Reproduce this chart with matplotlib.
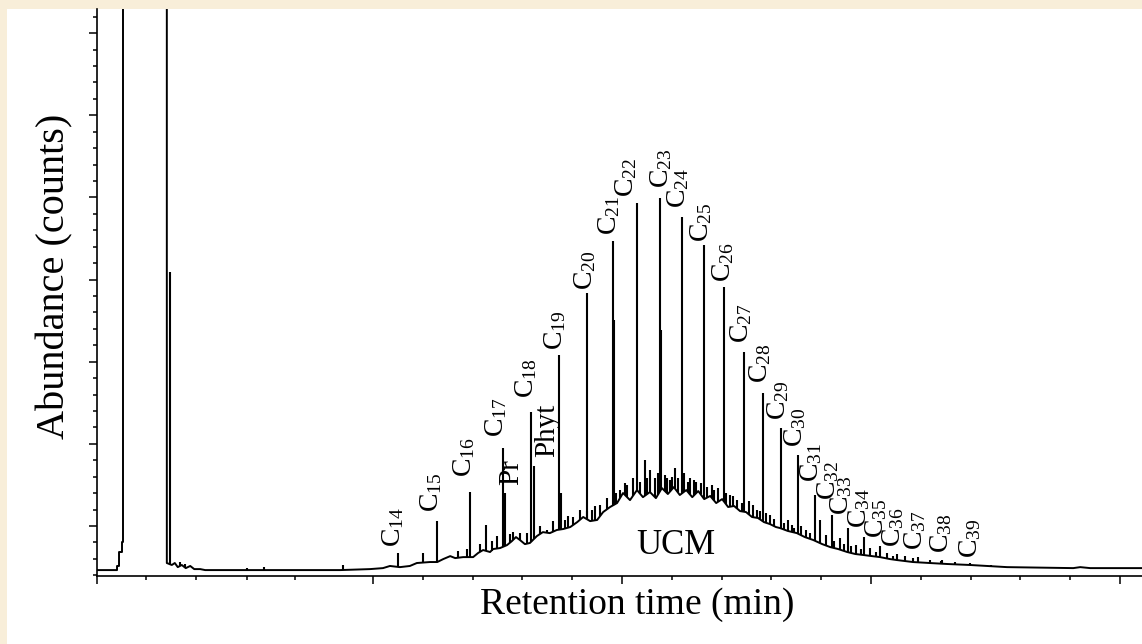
import numpy as np
import matplotlib
matplotlib.use("Agg")
from matplotlib import pyplot as plt
from matplotlib.patches import Rectangle
from matplotlib.ticker import FixedLocator

plt.rcParams['font.family'] = ['Liberation Serif', 'DejaVu Serif']
plt.rcParams['mathtext.fontset'] = 'custom'
plt.rcParams['mathtext.rm'] = 'Liberation Serif'
plt.rcParams['mathtext.it'] = 'Liberation Serif:italic'

# baseline, solvent front and UCM hump (time in min, abundance in 1e4 counts)
trace_t = [4.458, 4.86, 4.86, 4.90, 4.90, 4.96, 4.96, 4.98, 4.98, 5.86, 5.86,
           5.96, 6.02, 6.08, 6.16, 6.24, 6.33, 6.41, 6.53, 6.63, 9.34, 9.94,
           10.20, 10.34, 10.54, 10.74, 10.88, 11.14, 11.29, 11.41, 11.55, 11.65,
           11.81, 12.01, 12.11, 12.21, 12.35, 12.41, 12.55, 12.69, 12.79, 12.87,
           12.95, 13.05, 13.15, 13.29, 13.41, 13.55, 13.69, 13.82, 13.96, 14.10,
           14.22, 14.36, 14.50, 14.62, 14.76, 14.90, 15.02, 15.16, 15.30, 15.42,
           15.56, 15.68, 15.80, 15.92, 16.04, 16.16, 16.29, 16.41, 16.53, 16.65,
           16.77, 16.89, 17.01, 17.13, 17.25, 17.37, 17.49, 17.61, 17.73, 17.85,
           17.97, 18.09, 18.17, 18.33, 18.51, 18.67, 18.84, 19.02, 19.18, 19.34,
           19.52, 19.68, 19.84, 20.02, 20.18, 20.38, 20.52, 20.68, 20.84, 21.18,
           21.53, 21.99, 22.73, 24.06, 24.20, 24.40, 25.44]
trace_v = [2.32, 2.32, 2.57, 2.57, 3.42, 3.42, 4.03, 4.03, 60.0, 60.0, 2.75,
           2.63, 2.75, 2.50, 2.63, 2.44, 2.57, 2.38, 2.38, 2.32, 2.32, 2.38,
           2.44, 2.57, 2.50, 2.57, 2.75, 2.81, 2.81, 2.99, 3.17, 3.05,
           3.11, 3.11, 3.36, 3.54, 3.42, 3.60, 3.66, 3.84, 4.09, 4.33,
           4.15, 3.90, 3.97, 4.39, 4.63, 4.57, 4.76, 4.82, 4.94, 5.24,
           5.55, 5.30, 5.37, 5.85, 6.16, 6.40, 7.01, 6.58, 7.19, 6.76,
           7.07, 6.70, 7.31, 6.95, 7.37, 6.89, 7.19, 6.76, 7.13, 6.64,
           6.83, 6.40, 6.64, 6.16, 6.22, 5.91, 5.85, 5.55, 5.49, 5.24,
           5.12, 4.94, 4.88, 4.70, 4.57, 4.33, 4.15, 3.90, 3.72, 3.60,
           3.42, 3.30, 3.24, 3.17, 3.11, 2.99, 2.93, 2.87, 2.81, 2.75,
           2.69, 2.63, 2.50, 2.44, 2.50, 2.44, 2.44]

# n-alkanes C14 .. C39
carbon = list(range(14, 40))
alkane_t = [10.50, 11.28, 11.95, 12.60, 13.17, 13.74, 14.29, 14.81, 15.30,
            15.76, 16.20, 16.65, 17.05, 17.45, 17.83, 18.19, 18.54, 18.88,
            19.21, 19.54, 19.86, 20.18, 20.53, 20.94, 21.42, 21.99]
alkane_v = [3.38, 5.32, 7.09, 9.73, 11.96, 15.41, 19.18, 22.36, 24.64,
            24.94, 23.82, 22.10, 19.53, 15.61, 13.08, 10.95, 9.32, 6.89,
            5.67, 4.86, 4.35, 3.78, 3.30, 3.13, 2.93, 2.75]

# isoprenoids
iso_names = ['Pr', 'Phyt']
iso_t = [12.64, 13.23]
iso_v = [7.03, 8.65]

# other resolved / unresolved spikes
other_t = [5.92, 6.12, 6.22, 7.47, 7.81, 9.40, 11.00, 12.27, 12.49, 12.81,
           12.95, 13.49, 13.78, 13.86, 14.02, 14.40, 14.56, 14.66, 14.83,
           14.96, 15.10, 15.46, 15.56, 15.66, 15.78, 15.86, 15.96, 16.06,
           16.37, 16.49, 16.81, 16.93, 17.17, 17.31, 17.63, 17.71, 17.97,
           18.33, 18.41, 18.69, 18.98, 19.10, 19.38, 19.70, 19.98, 20.32,
           20.68, 21.18, 21.69,
           11.70, 11.88, 12.15, 12.38, 12.75, 13.10, 13.35, 13.62, 13.92,
           14.15, 14.30, 14.45, 14.70, 14.88, 15.05, 15.22, 15.36, 15.50,
           15.72, 15.90, 16.00, 16.12, 16.24, 16.32, 16.45, 16.58, 16.70,
           16.85, 17.08, 17.22, 17.40, 17.55, 17.78, 17.90, 18.05, 18.25,
           18.45, 18.60, 18.78, 19.25, 19.45, 19.60, 19.80, 20.10, 20.45,
           20.85, 21.40, 22.40]
other_v = [20.46, 2.81, 2.69, 2.44, 2.50, 2.63, 3.36, 5.06, 4.39, 4.63,
           4.57, 4.76, 7.01, 5.37, 5.55, 5.97, 6.28, 5.97, 17.54,
           7.19, 7.50, 9.02, 8.41, 7.92, 16.93, 8.10, 7.80, 8.53,
           7.92, 7.68, 7.50, 7.31, 6.89, 6.58, 6.28, 5.97, 5.67,
           5.37, 5.06, 4.76, 5.37, 4.45, 4.27, 3.84, 3.66, 3.36,
           3.17, 2.93, 2.81,
           3.50, 3.60, 3.90, 4.10, 4.50, 4.60, 5.00, 5.30, 5.60,
           6.00, 5.90, 6.20, 6.70, 7.00, 7.60, 7.90, 7.70, 7.90,
           8.20, 7.90, 8.00, 7.90, 8.20, 7.70, 7.80, 7.60, 7.40,
           7.20, 7.00, 6.80, 6.40, 6.50, 5.90, 5.80, 5.40, 5.20,
           4.90, 5.00, 4.60, 4.10, 3.90, 3.80, 3.60, 3.40, 3.20,
           3.05, 2.85, 2.60]

# label anchors (start of rotated baseline)
alkane_lab_t = [10.54, 11.31, 11.97, 12.61, 13.21, 13.80, 14.40, 14.88, 15.22,
                15.92, 16.27, 16.73, 17.17, 17.53, 17.91, 18.27, 18.61, 18.94,
                19.28, 19.54, 19.90, 20.24, 20.58, 21.02, 21.55, 22.13]
alkane_lab_v = [3.72, 5.85, 7.98, 10.42, 12.79, 15.71, 19.36, 22.71, 25.02,
                25.57, 24.35, 22.28, 19.85, 16.14, 13.70, 11.45, 9.81, 7.68,
                6.58, 5.67, 4.88, 4.27, 3.72, 3.54, 3.36, 3.05]
iso_lab_t = [12.91, 13.63]
iso_lab_v = [7.50, 9.20]

x_major = [4.458, 10, 15, 20, 25]
x_minor = [5.44, 6.45, 7.47, 8.43, 11, 12, 13, 14, 16, 17, 18, 19,
           21, 22, 23, 24]

fig = plt.figure(figsize=(11.42, 6.44), dpi=100, facecolor='#f8eed9')
fig.patches.append(Rectangle((7 / 1142, 0), 1, 1 - 9 / 644,
                             transform=fig.transFigure, facecolor='white',
                             edgecolor='none', zorder=-10))
ax = fig.add_axes([97 / 1142, 1 - 576 / 644, 1 - 97 / 1142, 567 / 644])
ax.set_facecolor('none')

ax.plot(trace_t, trace_v, color='black', lw=1.4)
peaks_t = alkane_t + iso_t + other_t
peaks_v = alkane_v + iso_v + other_v
base = np.interp(peaks_t, trace_t, trace_v)
ax.vlines(peaks_t, base, peaks_v, color='black', lw=1.5)

for n, t, v in zip(carbon, alkane_lab_t, alkane_lab_v):
    ax.text(t, v, 'C$_{%d}$' % n, rotation=90, rotation_mode='anchor',
            ha='left', va='baseline', fontsize=20)
for name, t, v in zip(iso_names, iso_lab_t, iso_lab_v):
    ax.text(t, v, name, rotation=90, rotation_mode='anchor',
            ha='left', va='baseline', fontsize=21)
ax.text(16.08, 3.84, 'UCM', ha='center', va='center', fontsize=25)

ax.set_xlim(4.458, 25.44)
ax.set_ylim(1.96, 36.47)
ax.xaxis.set_major_locator(FixedLocator(x_major))
ax.xaxis.set_minor_locator(FixedLocator(x_minor))
ax.yaxis.set_major_locator(FixedLocator(list(range(5, 40, 5))))
ax.yaxis.set_minor_locator(FixedLocator(list(range(2, 37))))
ax.tick_params(which='major', length=6, width=1.1, labelbottom=False,
               labelleft=False)
ax.tick_params(which='minor', length=3, width=1.1)
for s in ['top', 'right']:
    ax.spines[s].set_visible(False)
for s in ['left', 'bottom']:
    ax.spines[s].set_linewidth(1.2)

ax.set_xlabel('Retention time (min)', fontsize=27, va='center')
ax.xaxis.set_label_coords((637 - 97) / 1045, -29 / 567)
ax.set_ylabel('Abundance (counts)', fontsize=29, va='center')
ax.yaxis.set_label_coords(-42 / 1045, (576 - 276) / 567)

fig.savefig('out.png', dpi=100, facecolor=fig.get_facecolor())
